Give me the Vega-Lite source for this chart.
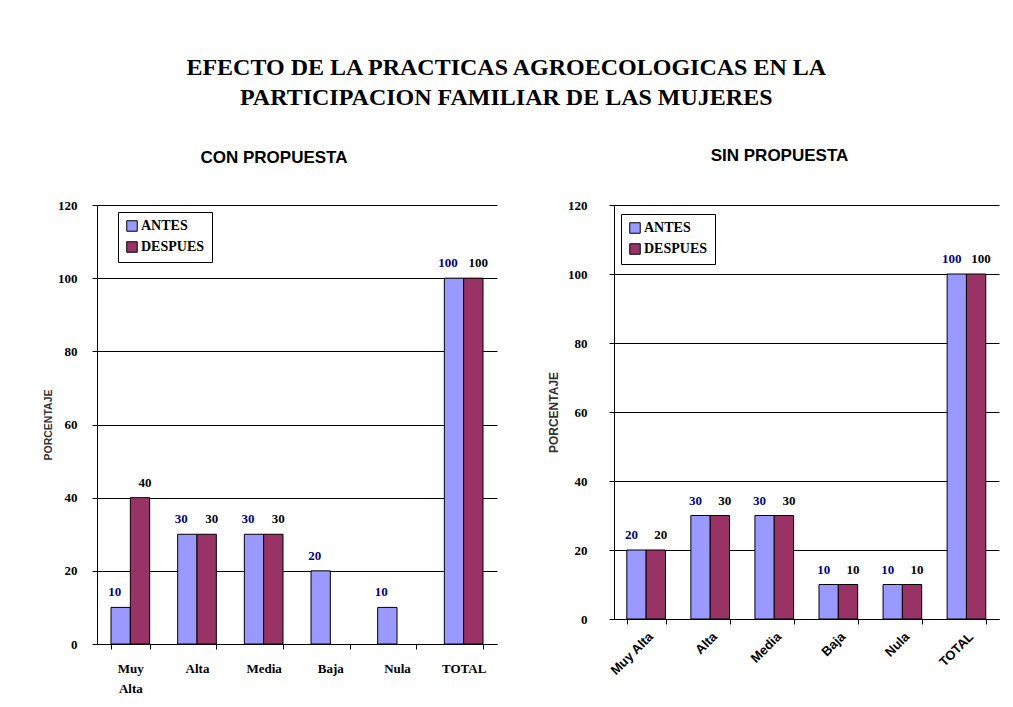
{
  "$schema": "https://vega.github.io/schema/vega-lite/v6.json",
  "padding": {"left": 43, "top": 56, "right": 5, "bottom": 5},
  "background": "white",
  "datasets": {
    "con": [
      {"nivel": "Muy Alta", "serie": "ANTES", "valor": 10},
      {"nivel": "Muy Alta", "serie": "DESPUES", "valor": 40},
      {"nivel": "Alta", "serie": "ANTES", "valor": 30},
      {"nivel": "Alta", "serie": "DESPUES", "valor": 30},
      {"nivel": "Media", "serie": "ANTES", "valor": 30},
      {"nivel": "Media", "serie": "DESPUES", "valor": 30},
      {"nivel": "Baja", "serie": "ANTES", "valor": 20},
      {"nivel": "Nula", "serie": "ANTES", "valor": 10},
      {"nivel": "TOTAL", "serie": "ANTES", "valor": 100},
      {"nivel": "TOTAL", "serie": "DESPUES", "valor": 100}
    ],
    "sin": [
      {"nivel": "Muy Alta", "serie": "ANTES", "valor": 20},
      {"nivel": "Muy Alta", "serie": "DESPUES", "valor": 20},
      {"nivel": "Alta", "serie": "ANTES", "valor": 30},
      {"nivel": "Alta", "serie": "DESPUES", "valor": 30},
      {"nivel": "Media", "serie": "ANTES", "valor": 30},
      {"nivel": "Media", "serie": "DESPUES", "valor": 30},
      {"nivel": "Baja", "serie": "ANTES", "valor": 10},
      {"nivel": "Baja", "serie": "DESPUES", "valor": 10},
      {"nivel": "Nula", "serie": "ANTES", "valor": 10},
      {"nivel": "Nula", "serie": "DESPUES", "valor": 10},
      {"nivel": "TOTAL", "serie": "ANTES", "valor": 100},
      {"nivel": "TOTAL", "serie": "DESPUES", "valor": 100}
    ]
  },
  "title": {
    "text": ["EFECTO DE LA PRACTICAS AGROECOLOGICAS EN LA", "PARTICIPACION FAMILIAR DE LAS MUJERES"],
    "font": "Liberation Serif",
    "fontSize": 24,
    "fontWeight": "bold",
    "color": "black",
    "lineHeight": 30,
    "anchor": "middle",
    "offset": 37,
    "dx": -15
  },
  "hconcat": [
    {
      "width": 400,
      "height": 439,
      "title": {"text": "CON PROPUESTA", "font": "Liberation Sans", "fontSize": 17, "fontWeight": "bold", "color": "black", "anchor": "middle", "offset": 32, "dx": -23},
      "data": {"name": "con"},
      "encoding": {
        "x": {
          "field": "nivel", "type": "nominal", "sort": ["Muy Alta", "Alta", "Media", "Baja", "Nula", "TOTAL"],
          "scale": {"paddingInner": 0.42, "paddingOuter": 0.21},
          "axis": {
            "title": null, "labelAngle": 0, "labelFont": "Liberation Serif", "labelFontSize": 13, "labelFontWeight": "bold",
            "labelColor": "black", "labelPadding": 13, "tickBand": "extent", "tickSize": 5, "tickColor": "black", "domainColor": "black",
            "labelExpr": "datum.value == 'Muy Alta' ? ['Muy', 'Alta'] : datum.value", "labelLineHeight": 20, "labelBaseline": "top"
          }
        },
        "xOffset": {"field": "serie", "type": "nominal", "sort": ["ANTES", "DESPUES"]},
        "y": {
          "field": "valor", "type": "quantitative",
          "scale": {"domain": [0, 120], "nice": false},
          "axis": {
            "title": "PORCENTAJE", "titleFont": "Liberation Sans", "titleFontSize": 10.5, "titleFontWeight": "bold", "titleColor": "#333333", "titlePadding": 4,
            "values": [0, 20, 40, 60, 80, 100, 120], "labelFont": "Liberation Serif", "labelFontSize": 13, "labelFontWeight": "bold",
            "labelColor": "black", "labelPadding": 15, "tickSize": 5, "tickColor": "black", "domainColor": "black",
            "grid": true, "gridColor": "black", "gridOpacity": 1
          }
        }
      },
      "layer": [
        {
          "mark": {"type": "bar", "stroke": "black", "strokeWidth": 1},
          "encoding": {
            "fill": {
              "field": "serie", "type": "nominal",
              "scale": {"domain": ["ANTES", "DESPUES"], "range": ["#9999FF", "#993366"]},
              "legend": {
                "title": null, "orient": "none", "legendX": 21, "legendY": 7, "direction": "vertical",
                "strokeColor": "black", "fillColor": "white", "padding": 7, "rowPadding": 5,
                "symbolType": "square", "symbolSize": 110, "symbolStrokeColor": "black", "symbolStrokeWidth": 1, "symbolOpacity": 1,
                "labelFont": "Liberation Serif", "labelFontSize": 14, "labelFontWeight": "bold", "labelOffset": 2, "labelLimit": 200,
                "encoding": {"labels": {"update": {"fill": {"signal": "datum.label === 'ANTES' ? '#000080' : '#000000'"}}}}
              }
            }
          }
        },
        {
          "transform": [{"filter": "datum.serie === 'ANTES'"}],
          "mark": {"type": "text", "dy": -15, "dx": -6, "font": "Liberation Serif", "fontSize": 13, "fontWeight": "bold", "color": "#000080"},
          "encoding": {"text": {"field": "valor", "type": "quantitative"}}
        },
        {
          "transform": [{"filter": "datum.serie === 'DESPUES'"}],
          "mark": {"type": "text", "dy": -15, "dx": 5, "font": "Liberation Serif", "fontSize": 13, "fontWeight": "bold", "color": "#000000"},
          "encoding": {"text": {"field": "valor", "type": "quantitative"}}
        }
      ]
    },
    {
      "width": 385,
      "height": 414,
      "title": {"text": "SIN PROPUESTA", "font": "Liberation Sans", "fontSize": 17, "fontWeight": "bold", "color": "black", "anchor": "middle", "offset": 34, "dx": -27},
      "data": {"name": "sin"},
      "encoding": {
        "x": {
          "field": "nivel", "type": "nominal", "sort": ["Muy Alta", "Alta", "Media", "Baja", "Nula", "TOTAL"],
          "scale": {"paddingInner": 0.39, "paddingOuter": 0.2},
          "axis": {
            "title": null, "labelAngle": -45, "labelAlign": "right", "labelBaseline": "top", "labelFont": "Liberation Sans", "labelFontSize": 13, "labelFontWeight": "bold",
            "labelColor": "black", "labelPadding": 6, "tickBand": "extent", "tickSize": 5, "tickColor": "black", "domainColor": "black"
          }
        },
        "xOffset": {"field": "serie", "type": "nominal", "sort": ["ANTES", "DESPUES"]},
        "y": {
          "field": "valor", "type": "quantitative",
          "scale": {"domain": [0, 120], "nice": false},
          "axis": {
            "title": "PORCENTAJE", "titleFont": "Liberation Sans", "titleFontSize": 12, "titleFontWeight": "bold", "titleColor": "#333333", "titlePadding": 7,
            "values": [0, 20, 40, 60, 80, 100, 120], "labelFont": "Liberation Serif", "labelFontSize": 13, "labelFontWeight": "bold",
            "labelColor": "black", "labelPadding": 22, "tickSize": 5, "tickColor": "black", "domainColor": "black",
            "grid": true, "gridColor": "black", "gridOpacity": 1
          }
        }
      },
      "layer": [
        {
          "mark": {"type": "bar", "stroke": "black", "strokeWidth": 1},
          "encoding": {
            "fill": {
              "field": "serie", "type": "nominal",
              "scale": {"domain": ["ANTES", "DESPUES"], "range": ["#9999FF", "#993366"]},
              "legend": {
                "title": null, "orient": "none", "legendX": 7, "legendY": 9, "direction": "vertical",
                "strokeColor": "black", "fillColor": "white", "padding": 7, "rowPadding": 5,
                "symbolType": "square", "symbolSize": 110, "symbolStrokeColor": "black", "symbolStrokeWidth": 1, "symbolOpacity": 1,
                "labelFont": "Liberation Serif", "labelFontSize": 14, "labelFontWeight": "bold", "labelOffset": 2, "labelLimit": 200,
                "encoding": {"labels": {"update": {"fill": {"signal": "datum.label === 'ANTES' ? '#000080' : '#000000'"}}}}
              }
            }
          }
        },
        {
          "transform": [{"filter": "datum.serie === 'ANTES'"}],
          "mark": {"type": "text", "dy": -15, "dx": -5, "font": "Liberation Serif", "fontSize": 13, "fontWeight": "bold", "color": "#000080"},
          "encoding": {"text": {"field": "valor", "type": "quantitative"}}
        },
        {
          "transform": [{"filter": "datum.serie === 'DESPUES'"}],
          "mark": {"type": "text", "dy": -15, "dx": 5, "font": "Liberation Serif", "fontSize": 13, "fontWeight": "bold", "color": "#000000"},
          "encoding": {"text": {"field": "valor", "type": "quantitative"}}
        }
      ]
    }
  ],
  "spacing": 50,
  "resolve": {
    "scale": {"x": "independent", "y": "independent", "fill": "independent"},
    "legend": {"fill": "independent"}
  },
  "config": {
    "view": {"stroke": null},
    "axis": {"domainWidth": 1, "tickWidth": 1, "gridWidth": 1}
  }
}
